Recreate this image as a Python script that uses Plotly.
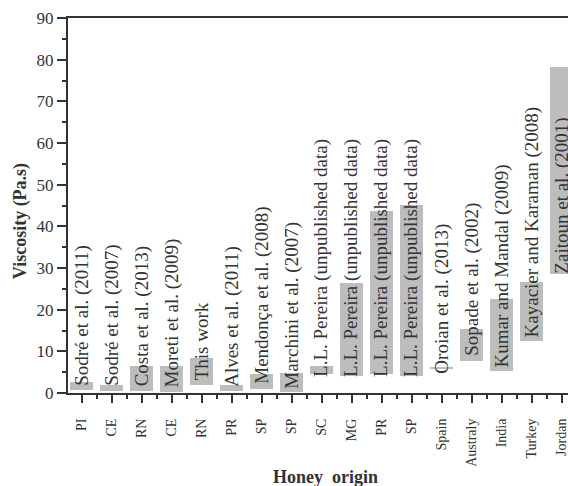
import plotly.graph_objects as go

# ---- data ----
origins = ["PI", "CE", "RN", "CE", "RN", "PR", "SP", "SP", "SC", "MG", "PR", "SP",
           "Spain", "Australy", "India", "Turkey", "Jordan"]
studies = ["Sodré et al. (2011)", "Sodré et al. (2007)", "Costa et al. (2013)",
           "Moreti et al. (2009)", "This work", "Alves et al. (2011)",
           "Mendonça et al. (2008)", "Marchini et al. (2007)",
           "L.L. Pereira (unpublished data)", "L.L. Pereira (unpublished data)",
           "L.L. Pereira (unpublished data)", "L.L. Pereira (unpublished data)",
           "Oroian et al. (2013)", "Sopade et al. (2002)", "Kumar and Mandal (2009)",
           "Kayacier and Karaman (2008)", "Zaitoun et al. (2001)"]
visc_min = [0.8, 0.5, 0.5, 0.3, 2.0, 0.4, 1.0, 0.2, 4.5, 4.2, 4.6, 4.2,
            5.9, 7.8, 5.2, 12.6, 28.6]
visc_max = [2.7, 1.9, 6.6, 6.6, 8.4, 2.0, 4.6, 4.9, 6.5, 26.4, 43.8, 45.2,
            6.2, 15.4, 22.6, 26.6, 78.2]
label_base = [1.3, 1.3, 1.05, 0.9, 2.5, 1.05, 1.8, 0.6, 3.3, 3.3, 3.3, 3.3,
              4.1, 8.5, 5.7, 12.9, 28.1]
y_ticks = [0, 10, 20, 30, 40, 50, 60, 70, 80, 90]

SERIF = "Liberation Serif, Times New Roman, serif"
INK = "#333333"
positions = list(range(len(origins)))

fig = go.Figure()
fig.add_trace(go.Bar(
    x=positions,
    y=[hi - lo for lo, hi in zip(visc_min, visc_max)],
    base=visc_min,
    width=0.78,
    marker=dict(color="#bdbdbd", line=dict(width=0)),
    hoverinfo="skip",
))

for xi, txt, yb in zip(positions, studies, label_base):
    fig.add_annotation(
        x=xi, y=yb, xref="x", yref="y", text=txt, showarrow=False,
        textangle=-90, xanchor="center", yanchor="bottom",
        font=dict(family=SERIF, size=19, color=INK),
    )

# axis titles
fig.add_annotation(
    x=(325 - 68) / 500, y=-0.225, xref="paper", yref="paper",
    text="<b>Honey  origin</b>", showarrow=False, xanchor="center", yanchor="middle",
    font=dict(family=SERIF, size=18, color=INK),
)
fig.add_annotation(
    x=-0.095, y=(393.3 - 222) / 375, xref="paper", yref="paper",
    text="<b>Viscosity (Pa.s)</b>", showarrow=False, textangle=-90,
    xanchor="center", yanchor="middle",
    font=dict(family=SERIF, size=18, color=INK),
)

fig.update_layout(
    width=568, height=486,
    margin=dict(l=68, r=0, t=18, b=93),
    paper_bgcolor="white", plot_bgcolor="white",
    showlegend=False,
    bargap=0,
    xaxis=dict(
        range=[-0.457, -0.457 + 500 / 30],
        tickvals=positions, ticktext=origins, tickangle=-90,
        tickfont=dict(family=SERIF, size=14, color=INK),
        ticks="outside", ticklen=8, tickwidth=1.5, tickcolor=INK,
        minor=dict(tick0=0.5, dtick=1, ticks="outside", ticklen=4,
                   tickwidth=1.5, tickcolor=INK),
        ticklabelstandoff=10, ticklabeloverflow="allow",
        showline=True, linecolor=INK, linewidth=2, mirror=True,
        showgrid=False, zeroline=False, fixedrange=True, automargin=False,
    ),
    yaxis=dict(
        range=[0, 90], tickvals=y_ticks,
        tickfont=dict(family=SERIF, size=17, color=INK),
        ticks="outside", ticklen=9, tickwidth=1.5, tickcolor=INK,
        minor=dict(dtick=5, ticks="outside", ticklen=4, tickwidth=1.5,
                   tickcolor=INK),
        showline=True, linecolor=INK, linewidth=2,
        showgrid=False, zeroline=False, fixedrange=True, automargin=False,
    ),
)

fig.write_html(
    "out.html",
    config={"displayModeBar": False},
    post_script="document.body.style.margin='0';document.body.style.overflow='hidden';",
)
